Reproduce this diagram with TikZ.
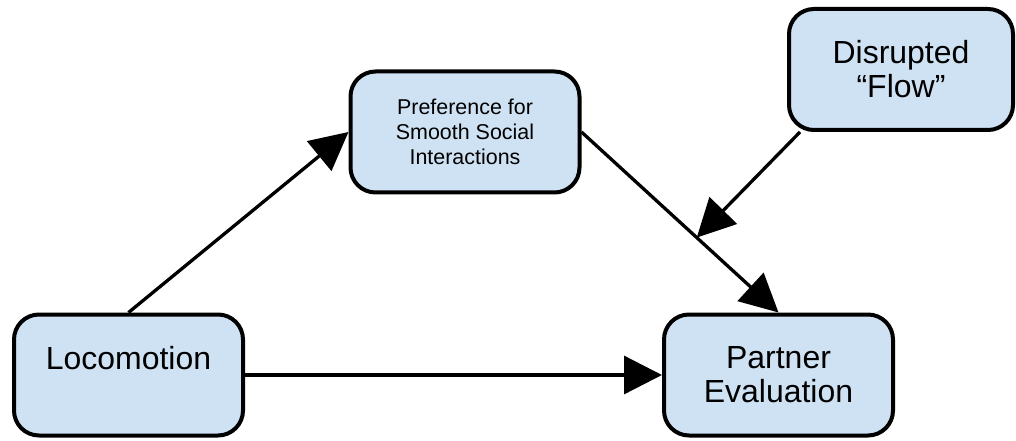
\documentclass[tikz,border=0pt]{standalone}
\usepackage{fontspec}
\setmainfont{Liberation Sans}
\usepackage{xcolor}
\usetikzlibrary{calc}
\usetikzlibrary{positioning}
\usetikzlibrary{arrows.meta}
\definecolor{boxblue}{HTML}{CFE2F3}

\begin{document}
\begin{tikzpicture}[box/.style={draw,line width=0.08cm,rounded corners=0.5cm,fill=boxblue,minimum width=4.58cm,minimum height=2.42cm,align=center,inner sep=0pt,font=\fontsize{18.2pt}{19.4pt}\selectfont},link/.style={line width=0.066cm,-{Triangle[length=0.76cm,width=0.76cm]}}]
	\useasboundingbox (0,0) rectangle (20.32,8.8);
	\node[box] (loco) at (2.57,1.30) {Locomotion\\\vphantom{E}};
	\node[box,right=8.34cm of loco] (partner) {Partner\\Evaluation};
	\node[box,font=\fontsize{12.2pt}{14.2pt}\selectfont] (pref) at (9.30,6.16) {Preference for\\Smooth Social\\Interactions};
	\node[box,minimum width=4.48cm] (flow) at (18.02,7.41) {Disrupted\\“Flow”};
	
	\coordinate (hit) at ($(pref.east)!0.585!(partner.north)$);
	\coordinate (flowfoot) at ($(flow.south west)+(0.26,0)$);
	
	\draw[link] (loco.north) -- (pref.west);
	\draw[link] (pref.east) -- (partner.north);
	\draw[link] (flowfoot) -- (hit);
	\draw[link] (loco.east) -- (partner.west);
\end{tikzpicture}
\end{document}
